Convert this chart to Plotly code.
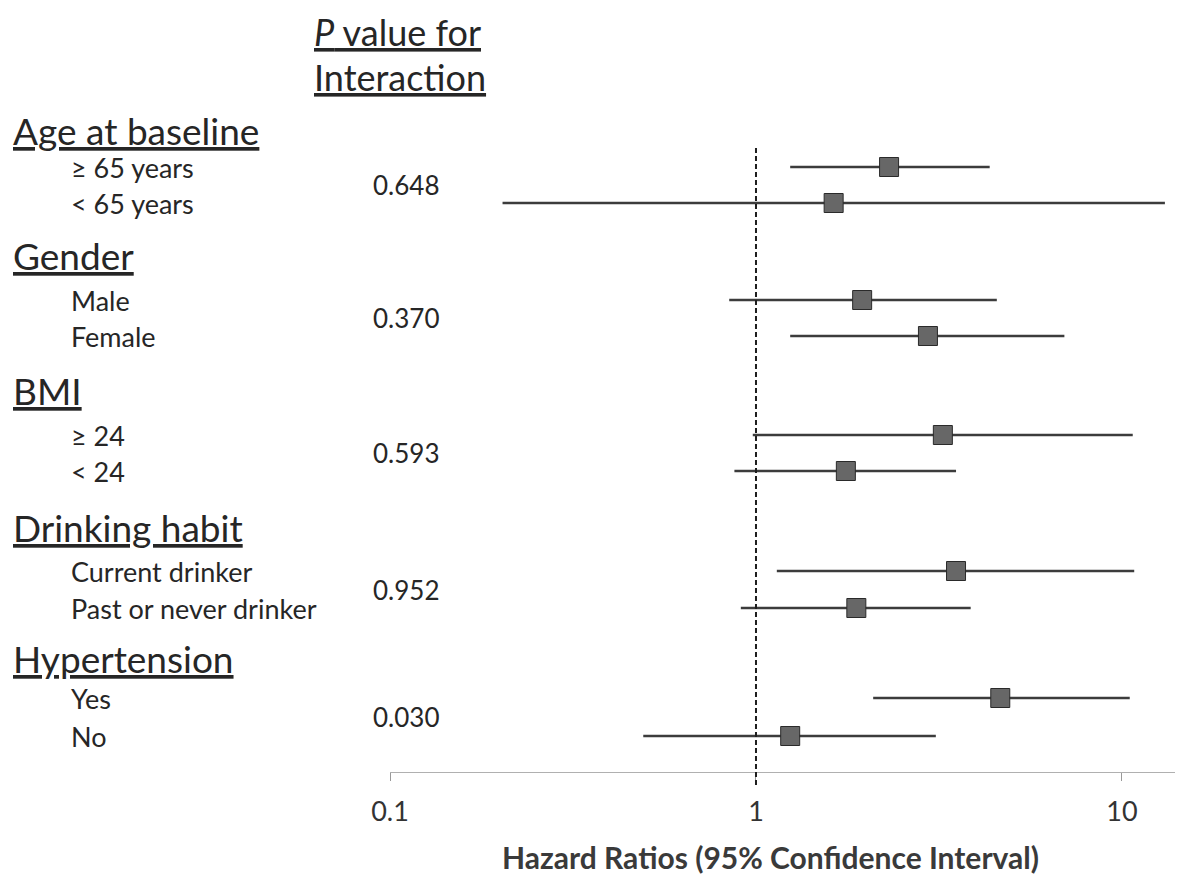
import plotly.graph_objects as go

# ---- data ----
groups = ["Age at baseline", "Gender", "BMI", "Drinking habit", "Hypertension"]
subgroups = [["≥ 65 years", "< 65 years"],
             ["Male", "Female"],
             ["≥ 24", "< 24"],
             ["Current drinker", "Past or never drinker"],
             ["Yes", "No"]]
p_values = ["0.648", "0.370", "0.593", "0.952", "0.030"]
hr =    [[2.31, 1.63], [1.95, 2.95], [3.24, 1.76], [3.52, 1.88], [4.65, 1.24]]
ci_lo = [[1.24, 0.203], [0.845, 1.24], [0.98, 0.873], [1.14, 0.909], [2.09, 0.492]]
ci_hi = [[4.35, 13.1], [4.55, 6.96], [10.7, 3.52], [10.8, 3.86], [10.5, 3.10]]
tick_vals = [0.1, 1, 10]
tick_text = ["0.1", "1", "10"]

# ---- layout (positions in page pixels; page body has an 8px margin) ----
PAGE_W, PAGE_H = 1183, 877
OFF = 8
W, H = PAGE_W - OFF, PAGE_H - OFF
AXIS_Y = 772
AXIS_X0 = 390
header_y = [130, 255, 390, 527, 658]
row_y = [[167, 203], [300, 336], [435, 471], [571, 608], [698, 736]]

FONT = "Lato"
TXT = "#262626"

def px2paper_x(x):
    return (x - OFF) / W

def px2paper_y(y):
    return 1 - (y - OFF) / H

fig = go.Figure()

# CI lines
lx, ly = [], []
for g in range(len(groups)):
    for i in range(2):
        lx += [ci_lo[g][i], ci_hi[g][i], None]
        ly += [row_y[g][i], row_y[g][i], None]
fig.add_trace(go.Scatter(x=lx, y=ly, mode="lines",
                         line=dict(color="#3c3c3c", width=2.7),
                         hoverinfo="skip", showlegend=False))

# point estimates
px, py = [], []
for g in range(len(groups)):
    for i in range(2):
        px.append(hr[g][i]); py.append(row_y[g][i])
fig.add_trace(go.Scatter(x=px, y=py, mode="markers",
                         marker=dict(symbol="square", size=19, color="#676767",
                                     line=dict(color="#2a2a2a", width=1)),
                         showlegend=False))

# reference line at HR = 1
fig.add_shape(type="line", xref="x", yref="paper", x0=1, x1=1,
              y0=px2paper_y(785), y1=px2paper_y(148),
              line=dict(color="#1e1e1e", width=2, dash="5px,3px"))

ann = []
def txt(x, y, s, size, color=TXT):
    ann.append(dict(x=px2paper_x(x), y=px2paper_y(y), xref="paper", yref="paper",
                    text=s, showarrow=False, xanchor="left", yanchor="middle",
                    font=dict(family=FONT, size=size, color=color)))

txt(312, 32, "<u><i>P</i> value for</u>", 36)
txt(312, 77, "<u>Interaction</u>", 36)
for g in range(len(groups)):
    txt(11, header_y[g], "<u>" + groups[g] + "</u>", 37)
    for i in range(2):
        txt(69, row_y[g][i], subgroups[g][i], 27)
    txt(371, (row_y[g][0] + row_y[g][1]) / 2, p_values[g], 26)

ann.append(dict(x=px2paper_x(770), y=px2paper_y(857), xref="paper", yref="paper",
                text="Hazard Ratios (95% Confidence Interval)", showarrow=False,
                xanchor="center", yanchor="middle",
                font=dict(family=FONT, size=30, color="#3a3a3a", weight="bold")))

fig.update_layout(
    width=W, height=H, margin=dict(l=0, r=0, t=0, b=0, autoexpand=False),
    paper_bgcolor="white", plot_bgcolor="white",
    annotations=ann,
    xaxis=dict(type="log", range=[-1, 1.1667], domain=[px2paper_x(AXIS_X0), 1],
               tickvals=tick_vals, ticktext=tick_text, automargin=False,
               showgrid=False, zeroline=False,
               showline=True, linecolor="#b0b0b0", linewidth=1,
               ticks="outside", ticklen=8, tickcolor="#999999",
               ticklabelstandoff=8,
               tickfont=dict(family=FONT, size=27, color="#333333")),
    yaxis=dict(range=[AXIS_Y, OFF], domain=[1 - (AXIS_Y - OFF) / H, 1],
               visible=False, showgrid=False, zeroline=False, automargin=False),
)

fig.write_html("out.html")
